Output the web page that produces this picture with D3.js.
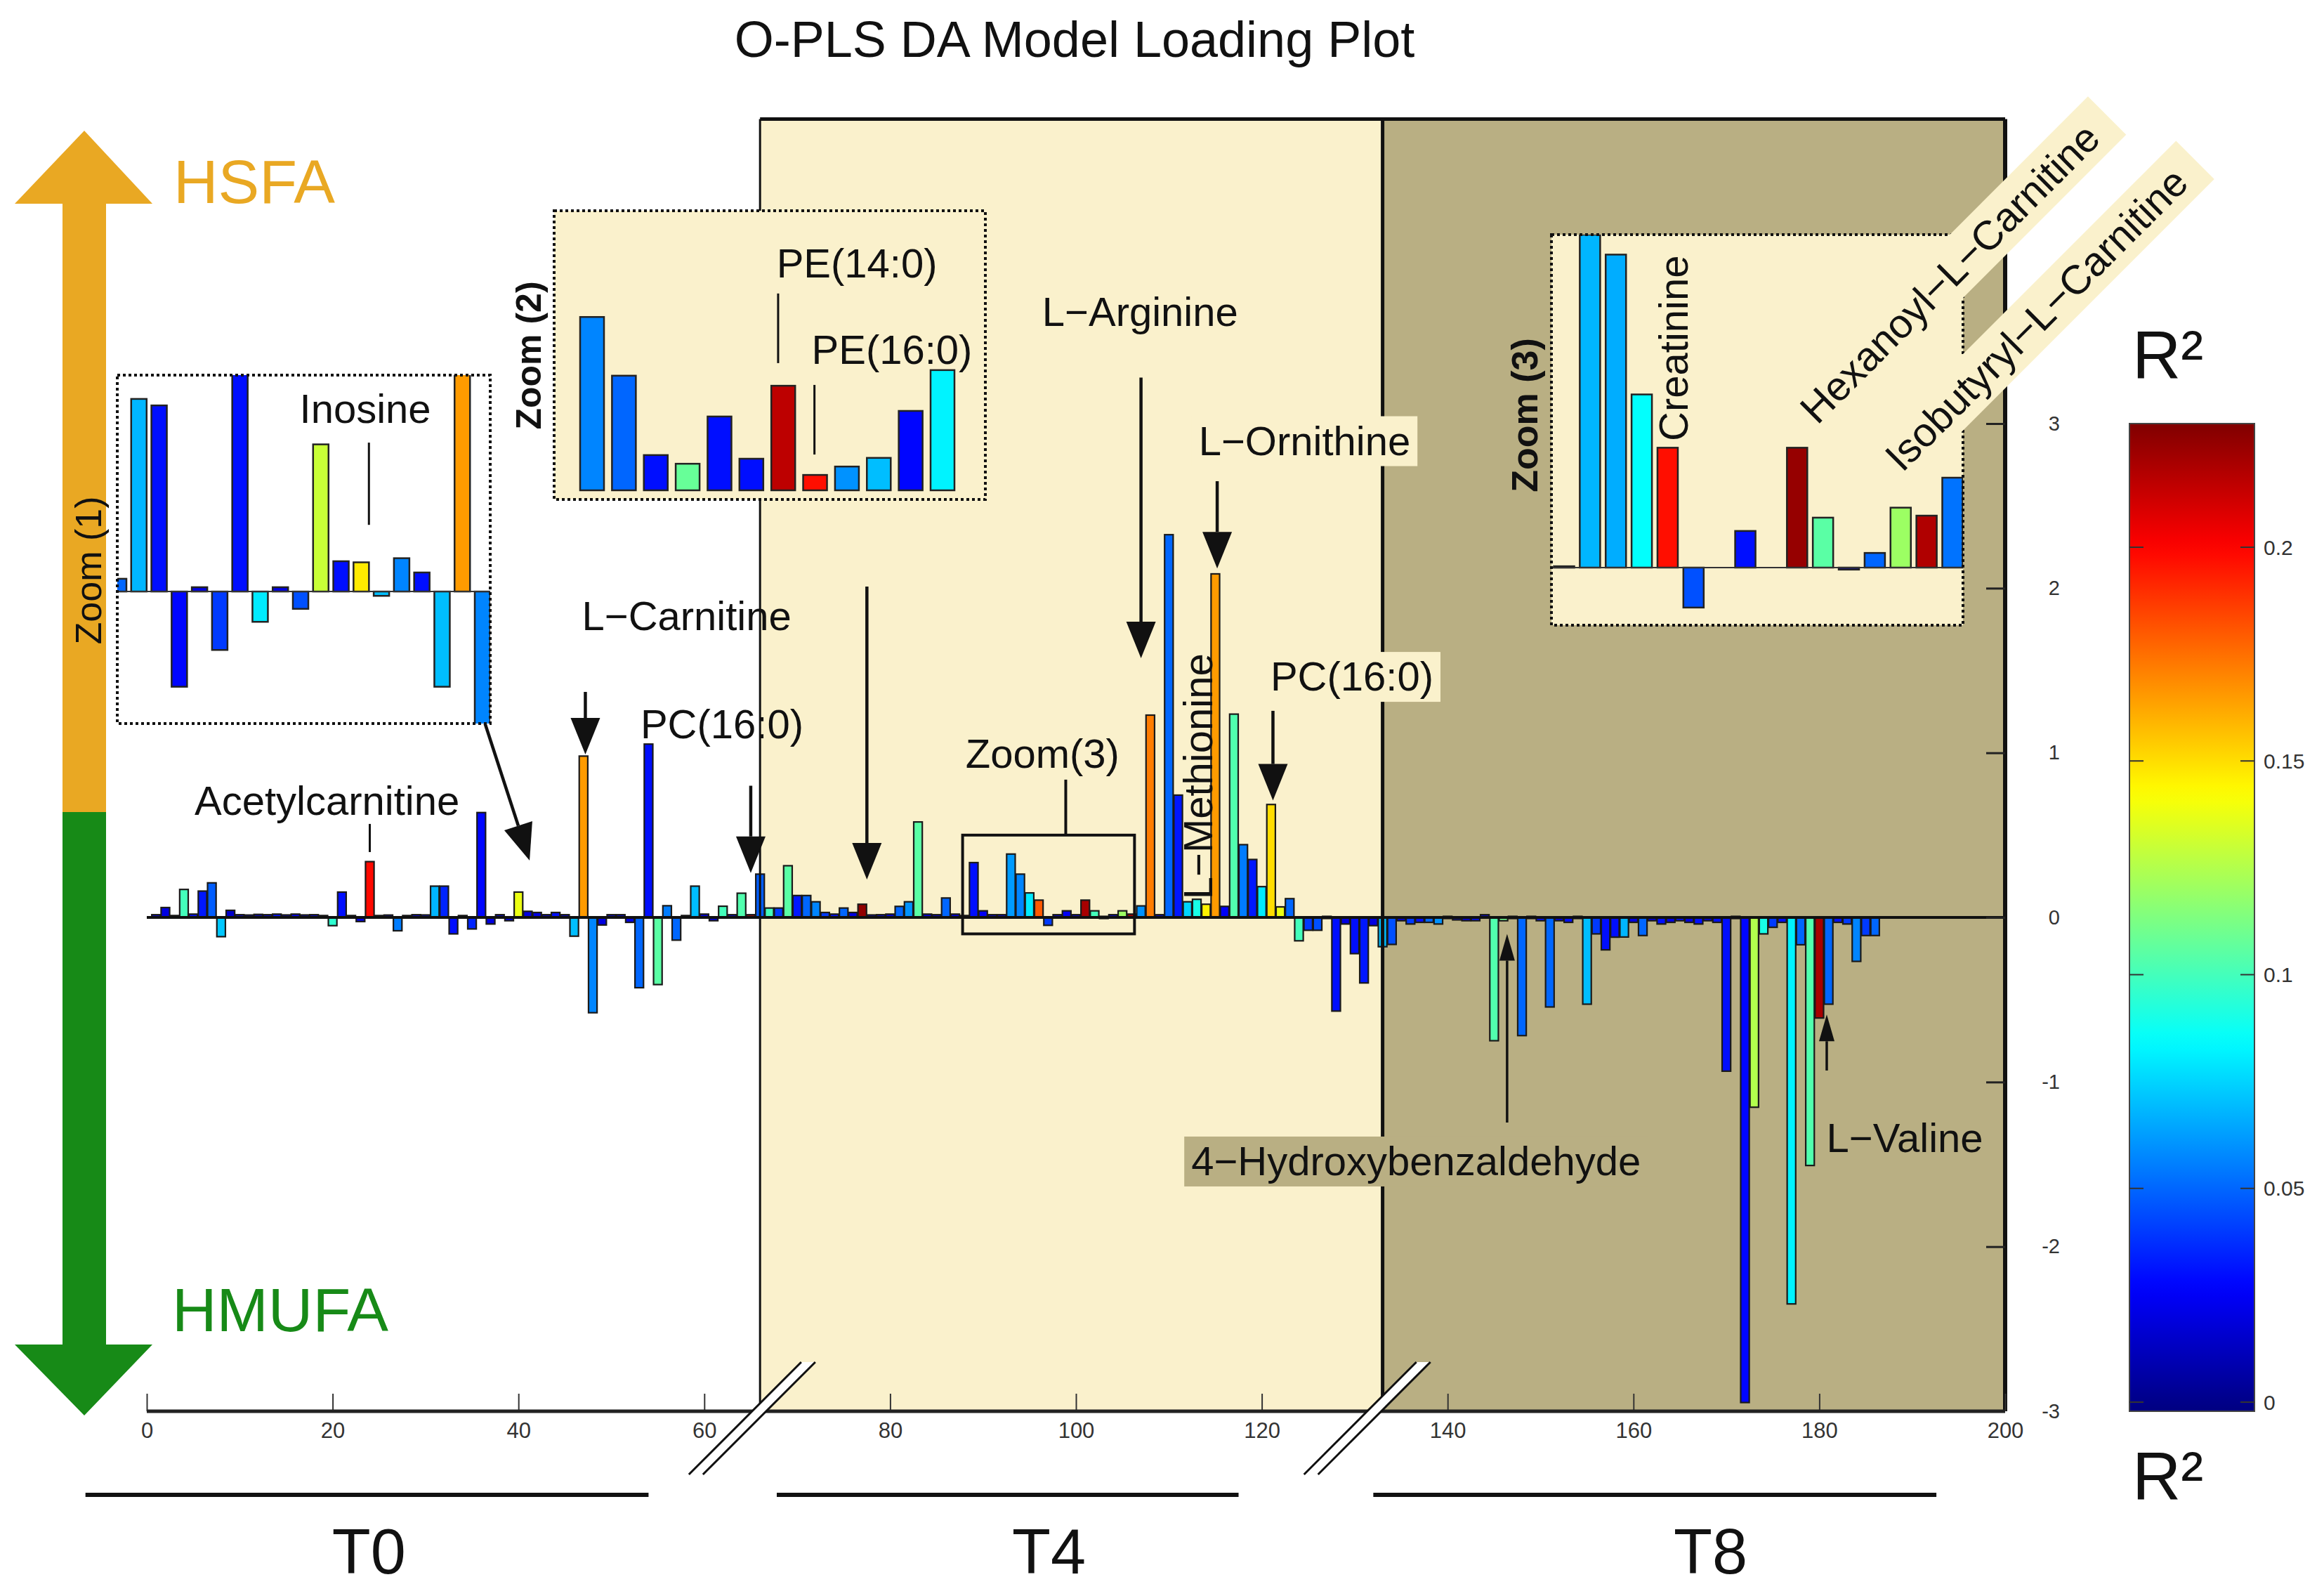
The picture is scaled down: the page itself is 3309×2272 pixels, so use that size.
<!DOCTYPE html>
<html lang="en">
<head>
<meta charset="UTF-8">
<title>O-PLS DA Model Loading Plot</title>
<script src="https://d3js.org/d3.v7.min.js"></script>
<style>
  body { margin: 0; background: #fff; }
  svg { display: block; font-family: "Liberation Sans", Arial, sans-serif; }
  .lbl { font-size: 58px; fill: #111; }
</style>
</head>
<body>
<svg id="chart" width="3309" height="2272"></svg>
<script>
// loadings per variable, T0 = variables 1..66, T4 = 67..132, T8 = 133..186
const t0Loadings = [0.01, 0.06, 0.005, 0.17, 0.02, 0.16, 0.21, -0.117, 0.043, 0.01,
  0.008, 0.012, 0.01, 0.02, 0.015, 0.02, 0.015, 0.01, 0.005, -0.05,
  0.154, 0.005, -0.025, 0.339, 0.005, 0.008, -0.081, 0.005, 0.01, 0.015,
  0.19, 0.19, -0.10, 0.005, -0.07, 0.637, -0.04, 0.01, -0.02, 0.154,
  0.037, 0.03, 0.01, 0.03, 0.01, -0.114, 0.98, -0.579, -0.046, 0.01,
  0.01, -0.03, -0.427, 1.053, -0.408, 0.071, -0.138, 0.005, 0.19, 0.02,
  -0.02, 0.068, 0.01, 0.147, 0.01, 0.263];
const t0R2 = [0.02, 0.02, 0.02, 0.1, 0.03, 0.032, 0.048, 0.072, 0.015, 0.02,
  0.02, 0.025, 0.02, 0.03, 0.02, 0.025, 0.02, 0.02, 0.02, 0.095,
  0.03, 0.02, 0.02, 0.198, 0.02, 0.02, 0.055, 0.02, 0.02, 0.03,
  0.068, 0.035, 0.03, 0.02, 0.035, 0.028, 0.02, 0.02, 0.02, 0.138,
  0.02, 0.02, 0.02, 0.03, 0.02, 0.07, 0.165, 0.057, 0.02, 0.02,
  0.02, 0.02, 0.05, 0.03, 0.105, 0.055, 0.05, 0.02, 0.07, 0.02,
  0.02, 0.1, 0.02, 0.103, 0.22, 0.048];

const t4Loadings = [0.057, 0.057, 0.314, 0.133, 0.133, 0.095, 0.03, 0.02, 0.057, 0.03,
  0.08, 0.015, 0.01, 0.02, 0.067, 0.095, 0.58, 0.02, 0.01, 0.118,
  0.02, 0.005, 0.333, 0.04, 0.01, 0.01, 0.385, 0.263, 0.149, 0.105,
  -0.048, 0.01, 0.04, 0.01, 0.105, 0.04, -0.01, 0.01, 0.04, 0.02,
  0.07, 1.229, 0.01, 2.325, 0.743, 0.095, 0.11, 0.08, 2.087, 0.067,
  1.235, 0.442, 0.352, 0.187, 0.686, 0.064, 0.114, -0.142, -0.078, -0.078,
  -0.01, -0.569, -0.04, -0.22, -0.398, -0.05];
const t4R2 = [0.1, 0.04, 0.105, 0.032, 0.05, 0.057, 0.04, 0.03, 0.05, 0.02,
  0.225, 0.02, 0.02, 0.02, 0.05, 0.06, 0.105, 0.02, 0.02, 0.05,
  0.02, 0.02, 0.03, 0.025, 0.02, 0.02, 0.062, 0.057, 0.08, 0.18,
  0.04, 0.02, 0.025, 0.02, 0.22, 0.1, 0.02, 0.02, 0.12, 0.22,
  0.06, 0.172, 0.02, 0.05, 0.032, 0.075, 0.09, 0.145, 0.165, 0.025,
  0.103, 0.055, 0.032, 0.08, 0.15, 0.138, 0.05, 0.1, 0.04, 0.045,
  0.02, 0.03, 0.02, 0.03, 0.032, 0.02];

const t8Loadings = [-0.178, -0.164, -0.02, -0.04, -0.03, -0.03, -0.04, -0.01, -0.015, -0.02,
  -0.02, 0.01, -0.749, -0.02, -0.01, -0.718, -0.01, -0.02, -0.544, -0.02,
  -0.03, -0.01, -0.527, -0.10, -0.197, -0.12, -0.119, -0.03, -0.11, -0.02,
  -0.04, -0.03, -0.02, -0.03, -0.04, -0.02, -0.03, -0.934, -0.01, -2.947,
  -1.153, -0.10, -0.06, -0.03, -2.348, -0.166, -1.507, -0.611, -0.527, -0.03,
  -0.04, -0.267, -0.11, -0.11];
const t8R2 = [0.07, 0.045, 0.02, 0.04, 0.03, 0.05, 0.06, 0.02, 0.03, 0.02,
  0.03, 0.02, 0.103, 0.11, 0.02, 0.05, 0.02, 0.03, 0.05, 0.02,
  0.03, 0.02, 0.07, 0.04, 0.03, 0.03, 0.068, 0.02, 0.05, 0.02,
  0.03, 0.02, 0.03, 0.02, 0.03, 0.02, 0.03, 0.03, 0.02, 0.028,
  0.125, 0.09, 0.04, 0.03, 0.082, 0.05, 0.103, 0.22, 0.05, 0.03,
  0.04, 0.057, 0.04, 0.05];

// zoom insets (relative loading, top of box = 1)
const zoom1Values = [0.059, 0.89, 0.86, -0.44, 0.02, -0.27, 1.1, -0.14, 0.02, -0.08,
  0.68, 0.14, 0.135, -0.02, 0.154, 0.088, -0.44, 1.1, -0.7];
const zoom1R2 = [0.05, 0.068, 0.03, 0.028, 0.02, 0.04, 0.03, 0.08, 0.02, 0.045,
  0.13, 0.03, 0.147, 0.07, 0.057, 0.03, 0.07, 0.165, 0.057];
const zoom2Values = [0.62, 0.41, 0.126, 0.095, 0.264, 0.113, 0.374, 0.055, 0.085, 0.116, 0.284, 0.43];
const zoom2R2 = [0.057, 0.05, 0.03, 0.108, 0.03, 0.03, 0.215, 0.197, 0.06, 0.07, 0.028, 0.082];
const zoom3Values = [0.004, 1.0, 0.94, 0.52, 0.36, -0.12, 0, 0.11, 0, 0.36, 0.15, -0.006, 0.044, 0.18, 0.156, 0.27];
const zoom3R2 = [0.02, 0.068, 0.066, 0.085, 0.197, 0.045, 0.02, 0.03, 0.02, 0.224, 0.105, 0.02, 0.05, 0.12, 0.218, 0.053];

const xTicks = [0, 20, 40, 60, 80, 100, 120, 140, 160, 180, 200];
const yTicks = [-3, -2, -1, 0, 1, 2, 3];
const r2Ticks = [0, 0.05, 0.1, 0.15, 0.2];
const periods = [
  {name: "T0", from: -6.6, to: 54.0, mid: 23.9},
  {name: "T4", from: 67.8, to: 117.5, mid: 97.1},
  {name: "T8", from: 132.0, to: 192.6, mid: 168.3}
];

const CREAM = "#faf1cc", TAN = "#b9af83";
const R2_MIN = -0.002, R2_MAX = 0.229;

function jet(v) {
  const t = Math.max(0, Math.min(1, (v - R2_MIN) / (R2_MAX - R2_MIN)));
  const f = c => Math.round(255 * Math.max(0, Math.min(1, c)));
  return `rgb(${f(1.5 - Math.abs(4 * t - 3))},${f(1.5 - Math.abs(4 * t - 2))},${f(1.5 - Math.abs(4 * t - 1))})`;
}

const svg = d3.select("#chart");
const x = d3.scaleLinear().domain([0, 200]).range([209, 2855]);
const y = d3.scaleLinear().domain([-3, 3]).range([2009, 603]);
const yTop = 4.85;

// shaded time blocks
const blocks = [{from: 66, to: 133, fill: CREAM}, {from: 133, to: 200, fill: TAN}];
svg.selectAll("rect.block").data(blocks).join("rect")
  .attr("class", "block")
  .attr("x", d => x(d.from)).attr("y", y(yTop))
  .attr("width", d => x(d.to) - x(d.from)).attr("height", y(-3) - y(yTop))
  .attr("fill", d => d.fill);

// bars
const bars = [
  ...t0Loadings.map((v, i) => ({idx: i + 1, v, r2: t0R2[i]})),
  ...t4Loadings.map((v, i) => ({idx: i + 67, v, r2: t4R2[i]})),
  ...t8Loadings.map((v, i) => ({idx: i + 133, v, r2: t8R2[i]}))
];
const bw = x(0.92) - x(0);
svg.append("g").selectAll("rect").data(bars).join("rect")
  .attr("x", d => x(d.idx) - bw / 2)
  .attr("y", d => Math.min(y(d.v), y(0)) - (Math.abs(y(d.v) - y(0)) < 3 ? 1.5 : 0))
  .attr("width", bw)
  .attr("height", d => Math.max(3, Math.abs(y(d.v) - y(0))))
  .attr("fill", d => jet(d.r2))
  .attr("stroke", "#1a1a1a").attr("stroke-width", 2.2);

// zero line
svg.append("line").attr("x1", x(0)).attr("x2", x(200)).attr("y1", y(0)).attr("y2", y(0))
  .attr("stroke", "#111").attr("stroke-width", 4);

// block borders
const border = svg.append("g").attr("stroke", "#111").attr("fill", "none");
border.append("line").attr("x1", x(66)).attr("x2", x(66)).attr("y1", y(yTop)).attr("y2", y(-3)).attr("stroke-width", 3);
border.append("line").attr("x1", x(133)).attr("x2", x(133)).attr("y1", y(yTop)).attr("y2", y(-3)).attr("stroke-width", 5);
border.append("line").attr("x1", x(66)).attr("x2", x(200)).attr("y1", y(yTop)).attr("y2", y(yTop)).attr("stroke-width", 5);
border.append("line").attr("x1", x(200)).attr("x2", x(200)).attr("y1", y(yTop)).attr("y2", y(-3)).attr("stroke-width", 6);

// x axis
const xAxis = svg.append("g").attr("transform", `translate(0,${y(-3)})`)
  .call(d3.axisBottom(x).tickValues(xTicks).tickSize(-25).tickPadding(16));
xAxis.select(".domain").remove();
xAxis.selectAll("line").attr("stroke", "#333").attr("stroke-width", 2);
xAxis.selectAll("text").attr("font-size", 31).attr("fill", "#333").attr("font-family", "Liberation Sans, Arial, sans-serif");
svg.append("line").attr("x1", x(0)).attr("x2", x(200)).attr("y1", y(-3)).attr("y2", y(-3))
  .attr("stroke", "#222").attr("stroke-width", 5);

// y axis on the right
const yAxis = svg.append("g").attr("transform", `translate(${x(200)},0)`)
  .call(d3.axisRight(y).tickValues(yTicks).tickSize(-27).tickFormat(d => String(d)));
yAxis.select(".domain").remove();
yAxis.selectAll("line").attr("stroke", "#222").attr("stroke-width", 3);
yAxis.selectAll("text").attr("x", 78).attr("text-anchor", "end").attr("font-size", 29)
  .attr("fill", "#333").attr("font-family", "Liberation Sans, Arial, sans-serif");

// axis breaks
function axisBreak(xc) {
  const cx = x(xc), cy = y(-3), gap = 10, up = 70, down = 90;
  const pts = [[cx - gap + up, cy - up], [cx + gap + up, cy - up], [cx + gap - down, cy + down], [cx - gap - down, cy + down]];
  svg.append("polygon").attr("points", pts.join(" ")).attr("fill", "#fff");
  svg.append("line").attr("x1", pts[0][0]).attr("y1", pts[0][1]).attr("x2", pts[3][0]).attr("y2", pts[3][1]).attr("stroke", "#111").attr("stroke-width", 3);
  svg.append("line").attr("x1", pts[1][0]).attr("y1", pts[1][1]).attr("x2", pts[2][0]).attr("y2", pts[2][1]).attr("stroke", "#111").attr("stroke-width", 3);
}
axisBreak(65.9);
axisBreak(132.1);

// period lines and labels
svg.selectAll("line.period").data(periods).join("line")
  .attr("x1", d => x(d.from)).attr("x2", d => x(d.to)).attr("y1", 2128).attr("y2", 2128)
  .attr("stroke", "#111").attr("stroke-width", 6);
svg.selectAll("text.period").data(periods).join("text")
  .attr("x", d => x(d.mid)).attr("y", 2240).attr("text-anchor", "middle")
  .attr("font-size", 90).attr("fill", "#111").text(d => d.name);

// direction arrows on the left
const gold = "#e9a823", green = "#178a17";
svg.append("polygon").attr("fill", gold)
  .attr("points", [[120, 186], [217, 290], [151, 290], [151, 1156], [89, 1156], [89, 290], [21, 290]].join(" "));
svg.append("polygon").attr("fill", green)
  .attr("points", [[89, 1156], [151, 1156], [151, 1914], [217, 1914], [120, 2015], [21, 1914], [89, 1914]].join(" "));
svg.append("text").attr("x", 247).attr("y", 289).attr("font-size", 88).attr("fill", gold).text("HSFA");
svg.append("text").attr("x", 245).attr("y", 1895).attr("font-size", 88).attr("fill", green).text("HMUFA");

// zoom insets
function drawInset(cfg) {
  const g = svg.append("g");
  const clipId = "clip-" + cfg.name;
  svg.append("clipPath").attr("id", clipId).append("rect")
    .attr("x", cfg.x0).attr("y", cfg.y0).attr("width", cfg.x1 - cfg.x0).attr("height", cfg.y1 - cfg.y0);
  g.append("rect").attr("x", cfg.x0).attr("y", cfg.y0).attr("width", cfg.x1 - cfg.x0).attr("height", cfg.y1 - cfg.y0)
    .attr("fill", cfg.fill);
  const xs = d3.scaleLinear().domain([0, cfg.values.length - 1]).range(cfg.xr);
  const ys = d3.scaleLinear().domain(cfg.yd).range([cfg.y1, cfg.y0]);
  const data = cfg.values.map((v, i) => ({i, v, r2: cfg.r2[i]}));
  g.append("g").attr("clip-path", `url(#${clipId})`)
    .selectAll("rect").data(data.filter(d => d.v !== 0)).join("rect")
    .attr("x", d => xs(d.i) - cfg.bw / 2)
    .attr("y", d => Math.min(ys(d.v), ys(0)))
    .attr("width", cfg.bw)
    .attr("height", d => Math.max(2, Math.abs(ys(d.v) - ys(0))))
    .attr("fill", d => jet(d.r2)).attr("stroke", "#222").attr("stroke-width", 2.5);
  if (cfg.zeroLine) {
    g.append("line").attr("x1", cfg.x0).attr("x2", cfg.x1).attr("y1", ys(0)).attr("y2", ys(0))
      .attr("stroke", "#333").attr("stroke-width", 2);
  }
  g.append("rect").attr("x", cfg.x0).attr("y", cfg.y0).attr("width", cfg.x1 - cfg.x0).attr("height", cfg.y1 - cfg.y0)
    .attr("fill", "none").attr("stroke", "#111").attr("stroke-width", 4).attr("stroke-dasharray", "4,4");
  return {g, xs, ys};
}

const z1 = drawInset({name: "z1", x0: 167, y0: 534, x1: 698, y1: 1030, xr: [169, 687], yd: [-0.61, 1],
  values: zoom1Values, r2: zoom1R2, bw: 22, fill: "#fff", zeroLine: true});
const z2 = drawInset({name: "z2", x0: 789, y0: 300, x1: 1403, y1: 711, xr: [843, 1342], yd: [-0.0327, 1],
  values: zoom2Values, r2: zoom2R2, bw: 34, fill: CREAM, zeroLine: false});
const z3 = drawInset({name: "z3", x0: 2209, y0: 334, x1: 2795, y1: 890, xr: [2227, 2780], yd: [-0.173, 1],
  values: zoom3Values, r2: zoom3R2, bw: 29, fill: CREAM, zeroLine: true});

function leader(px, py1, py2, w) {
  svg.append("line").attr("x1", px).attr("x2", px).attr("y1", py1).attr("y2", py2)
    .attr("stroke", "#111").attr("stroke-width", w || 3);
}

// inset labels
svg.append("text").attr("class", "lbl").attr("x", z1.xs(12.2)).attr("y", z1.ys(0.78)).attr("text-anchor", "middle").text("Inosine");
leader(z1.xs(12.38), z1.ys(0.688), z1.ys(0.308));
svg.append("text").attr("class", "lbl").attr("x", z2.xs(5.79)).attr("y", z2.ys(0.761)).attr("font-size", 60).text("PE(14:0)");
leader(z2.xs(5.84), z2.ys(0.704), z2.ys(0.455));
svg.append("text").attr("class", "lbl").attr("x", z2.xs(6.89)).attr("y", z2.ys(0.452)).attr("font-size", 56).text("PE(16:0)");
leader(z2.xs(6.98), z2.ys(0.377), z2.ys(0.128));
svg.append("text").attr("class", "lbl")
  .attr("transform", `translate(${z3.xs(4.77)},${z3.ys(0.38)}) rotate(-90)`).text("Creatinine");

function bandLabel(text, px, py, angle, fill) {
  const g = svg.append("g").attr("transform", `translate(${px},${py}) rotate(${angle})`);
  const band = g.append("rect").attr("fill", fill);
  const t = g.append("text").attr("class", "lbl").text(text);
  const b = t.node().getBBox();
  band.attr("x", b.x - 20).attr("y", b.y - 6).attr("width", b.width + 50).attr("height", b.height + 12);
}
bandLabel("Hexanoyl−L−Carnitine", z3.xs(9.78), z3.ys(0.426), -45, CREAM);
bandLabel("Isobutyryl−L−Carnitine", z3.xs(13.06), z3.ys(0.283), -45, CREAM);

// rotated inset titles
[["Zoom (1)", 144, 812, "normal", 52], ["Zoom (2)", 770, 506, "bold", 50], ["Zoom (3)", 2189, 591, "bold", 52]]
  .forEach(([t, px, py, w, s]) => {
    svg.append("text").attr("transform", `translate(${px},${py}) rotate(-90)`)
      .attr("text-anchor", "middle").attr("font-size", s).attr("font-weight", w).attr("fill", "#111").text(t);
  });

// arrows
function arrow(x1, y1, x2, y2, headLen, headW, w) {
  const dx = x2 - x1, dy = y2 - y1, L = Math.hypot(dx, dy), ux = dx / L, uy = dy / L;
  const bx = x2 - ux * headLen, by = y2 - uy * headLen;
  svg.append("line").attr("x1", x1).attr("y1", y1).attr("x2", bx).attr("y2", by)
    .attr("stroke", "#111").attr("stroke-width", w);
  svg.append("polygon").attr("fill", "#111").attr("points",
    [[x2, y2], [bx - uy * headW / 2, by + ux * headW / 2], [bx + uy * headW / 2, by - ux * headW / 2]].join(" "));
}
const arrowSpecs = [
  {x1: 47.2, y1: 1.37, x2: 47.2, y2: 0.99, big: true},
  {x1: 77.5, y1: 2.01, x2: 77.5, y2: 0.23, big: true},
  {x1: 65.0, y1: 0.80, x2: 65.0, y2: 0.27, big: true},
  {x1: 107.0, y1: 3.28, x2: 107.0, y2: 1.575, big: true},
  {x1: 115.2, y1: 2.65, x2: 115.2, y2: 2.12, big: true},
  {x1: 121.2, y1: 1.255, x2: 121.2, y2: 0.71, big: true},
  {x1: 146.4, y1: -1.246, x2: 146.4, y2: -0.10, big: false},
  {x1: 180.8, y1: -0.93, x2: 180.8, y2: -0.59, big: false},
  {x1: 36.4, y1: 1.178, x2: 41.2, y2: 0.346, big: true}
];
arrowSpecs.forEach(a => arrow(x(a.x1), y(a.y1), x(a.x2), y(a.y2), a.big ? 52 : 38, a.big ? 42 : 22, a.big ? 4.5 : 3.5));

// leader lines in the main plot
leader(x(24.0), y(0.568), y(0.397));
leader(x(98.9), y(0.837), y(0.5), 4);
svg.append("rect").attr("x", x(87.8)).attr("y", y(0.5)).attr("width", x(106.3) - x(87.8)).attr("height", y(-0.1) - y(0.5))
  .attr("fill", "none").attr("stroke", "#111").attr("stroke-width", 4);

// metabolite labels
const mainLabels = [
  {text: "Acetylcarnitine", x: 19.4, y: 0.623},
  {text: "L−Carnitine", x: 58.1, y: 1.746},
  {text: "PC(16:0)", x: 61.9, y: 1.088},
  {text: "Zoom(3)", x: 96.4, y: 0.909},
  {text: "L−Arginine", x: 106.9, y: 3.594},
  {text: "L−Ornithine", x: 124.6, y: 2.81, bg: CREAM},
  {text: "PC(16:0)", x: 129.7, y: 1.378, bg: CREAM},
  {text: "4−Hydroxybenzaldehyde", x: 136.6, y: -1.566, bg: TAN},
  {text: "L−Valine", x: 189.2, y: -1.426}
];
mainLabels.forEach(d => {
  const bg = d.bg ? svg.append("rect").attr("fill", d.bg) : null;
  const t = svg.append("text").attr("class", "lbl").attr("x", x(d.x)).attr("y", y(d.y))
    .attr("text-anchor", "middle").text(d.text);
  if (bg) {
    const b = t.node().getBBox();
    bg.attr("x", b.x - 10).attr("y", b.y - 2).attr("width", b.width + 20).attr("height", b.height + 6);
  }
});
svg.append("text").attr("class", "lbl").attr("font-size", 47)
  .attr("transform", `translate(${x(114.7)},${y(0.11)}) rotate(-90)`).text("L−Methionine");

// colour bar
const cy = d3.scaleLinear().domain([0, 0.2]).range([1996, 779]);
const cbTop = 603, cbBot = 2009, cbX0 = 3032, cbX1 = 3210;
const grad = svg.append("defs").append("linearGradient").attr("id", "jetgrad")
  .attr("x1", 0).attr("y1", 0).attr("x2", 0).attr("y2", 1);
d3.range(0, 61).forEach(k => {
  const py = cbTop + (cbBot - cbTop) * k / 60;
  grad.append("stop").attr("offset", k / 60).attr("stop-color", jet(cy.invert(py)));
});
svg.append("rect").attr("x", cbX0).attr("y", cbTop).attr("width", cbX1 - cbX0).attr("height", cbBot - cbTop)
  .attr("fill", "url(#jetgrad)").attr("stroke", "#444").attr("stroke-width", 2);
const cbAxis = svg.append("g");
cbAxis.selectAll("line.l").data(r2Ticks).join("line").attr("x1", cbX0).attr("x2", cbX0 + 20)
  .attr("y1", d => cy(d)).attr("y2", d => cy(d)).attr("stroke", "#333").attr("stroke-width", 2);
cbAxis.selectAll("line.r").data(r2Ticks).join("line").attr("x1", cbX1 - 20).attr("x2", cbX1)
  .attr("y1", d => cy(d)).attr("y2", d => cy(d)).attr("stroke", "#333").attr("stroke-width", 2);
cbAxis.selectAll("text").data(r2Ticks).join("text").attr("x", 3223).attr("y", d => cy(d)).attr("dy", "0.35em")
  .attr("font-size", 30).attr("fill", "#333").text(d => d);
svg.append("text").attr("x", 3036).attr("y", 539).attr("font-size", 96).attr("fill", "#111").text("R²");
svg.append("text").attr("x", 3036).attr("y", 2135).attr("font-size", 96).attr("fill", "#111").text("R²");

// title
svg.append("text").attr("x", 1530).attr("y", 81).attr("text-anchor", "middle")
  .attr("font-size", 72).attr("fill", "#111").text("O-PLS DA Model Loading Plot");
</script>
</body>
</html>
